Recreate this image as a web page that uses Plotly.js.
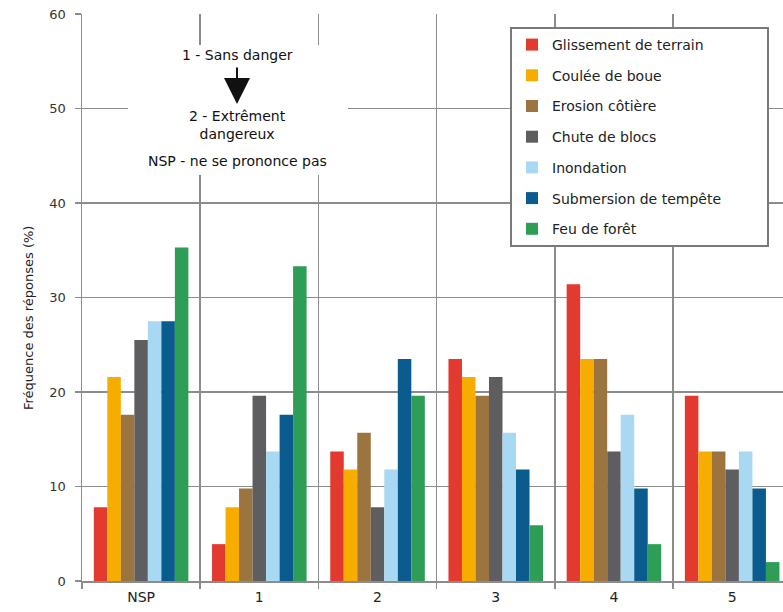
<!DOCTYPE html>
<html>
<head>
<meta charset="utf-8">
<script src="https://cdn.plot.ly/plotly-3.0.1.min.js"></script>
<style>html,body{margin:0;padding:0;background:#fff;}#chart{width:783px;height:612px;}</style>
</head>
<body>
<div id="chart"></div>
<script>
const categories = ['NSP', '1', '2', '3', '4', '5'];
const seriesNames = ['Glissement de terrain', 'Coulée de boue', 'Erosion côtière', 'Chute de blocs', 'Inondation', 'Submersion de tempête', 'Feu de forêt'];
const seriesColors = ['#e23a2e', '#f7ad00', '#9c7440', '#5e5e60', '#a9d9f2', '#0a5c8e', '#2e9e57'];
const glissement = [7.8, 3.9, 13.7, 23.5, 31.4, 19.6];
const coulee = [21.6, 7.8, 11.8, 21.6, 23.5, 13.7];
const erosion = [17.6, 9.8, 15.7, 19.6, 23.5, 13.7];
const chute = [25.5, 19.6, 7.8, 21.6, 13.7, 11.8];
const inondation = [27.5, 13.7, 11.8, 15.7, 17.6, 13.7];
const submersion = [27.5, 17.6, 23.5, 11.8, 9.8, 9.8];
const feu = [35.3, 33.3, 19.6, 5.9, 3.9, 2.0];
const seriesValues = [glissement, coulee, erosion, chute, inondation, submersion, feu];

const PAD = '\u00a0'.repeat(9);
const traces = seriesNames.map((name, i) => ({
  type: 'bar',
  name: i === 5 ? name + PAD : name,
  x: categories,
  y: seriesValues[i],
  marker: {color: seriesColors[i], line: {width: 0}},
  legendgroup: 'g' + i,
  hoverinfo: 'skip'
}));

const FONT = 'DejaVu Sans, Liberation Sans, Arial, sans-serif';
const gridColor = '#8c8c8c';
const px = v => (v - 82) / 701;
const py = v => (581 - v) / 567;
const layout = {
  width: 783,
  height: 612,
  margin: {l: 82, r: 0, t: 14, b: 31, pad: 0},
  paper_bgcolor: '#fff',
  plot_bgcolor: '#fff',
  font: {family: FONT, color: '#222', size: 12},
  barmode: 'group',
  bargap: 0.2,
  bargroupgap: 0,
  showlegend: true,
  legend: {
    x: px(510), y: py(27), xanchor: 'left', yanchor: 'top',
    bgcolor: '#fff', bordercolor: '#7a7a7a', borderwidth: 2,
    font: {size: 14, color: '#222', family: FONT},
    tracegroupgap: 9.5,
    traceorder: 'grouped'
  },
  xaxis: {
    type: 'category',
    range: [-0.5, 5.43],
    tickson: 'boundaries',
    showgrid: true, gridcolor: gridColor, gridwidth: 1.5,
    ticks: 'outside', ticklen: 6, tickcolor: gridColor, tickwidth: 1.5,
    showline: true, linecolor: gridColor, linewidth: 1.5,
    tickfont: {size: 14, color: '#222', family: FONT},
    ticklabelstandoff: 3,
    zeroline: false
  },
  yaxis: {
    range: [0, 60],
    tickvals: [0, 10, 20, 30, 40, 50, 60],
    showgrid: true, gridcolor: gridColor, gridwidth: 1.5,
    ticks: 'outside', ticklen: 6, tickcolor: gridColor, tickwidth: 1.5,
    showline: true, linecolor: gridColor, linewidth: 1.5,
    tickfont: {size: 13, color: '#333', family: FONT},
    ticklabelstandoff: 6,
    zeroline: false
  },
  annotations: [
    {xref: 'paper', yref: 'paper', x: px(238), y: py(110), text: ' ', showarrow: false,
     width: 220, height: 130, bgcolor: '#fff', borderpad: 0, borderwidth: 0,
     xanchor: 'center', yanchor: 'middle'},
    {xref: 'paper', yref: 'paper', x: (28 - 82) / 701, y: py(318),
     text: 'Fréquence des réponses (%)', textangle: -90, showarrow: false,
     font: {size: 13, color: '#222'}, xanchor: 'center', yanchor: 'middle'},
    {xref: 'paper', yref: 'paper', x: px(237), y: py(55),
     text: '1 - Sans danger', showarrow: false, font: {size: 14, color: '#111'},
     xanchor: 'center', yanchor: 'middle'},
    {xref: 'paper', yref: 'paper', x: px(237), y: py(104),
     ax: 0, ay: -38, text: '', showarrow: true, arrowhead: 2, arrowsize: 2.6,
     arrowwidth: 2, arrowcolor: '#111'},
    {xref: 'paper', yref: 'paper', x: px(237), y: py(125),
     text: '2 - Extrêment<br>dangereux', showarrow: false, font: {size: 14, color: '#111'},
     xanchor: 'center', yanchor: 'middle'},
    {xref: 'paper', yref: 'paper', x: px(237), y: py(161),
     text: 'NSP - ne se prononce pas', showarrow: false, font: {size: 14, color: '#111'},
     xanchor: 'center', yanchor: 'middle'}
  ]
};

Plotly.newPlot('chart', traces, layout, {staticPlot: true, displayModeBar: false});
</script>
</body>
</html>
